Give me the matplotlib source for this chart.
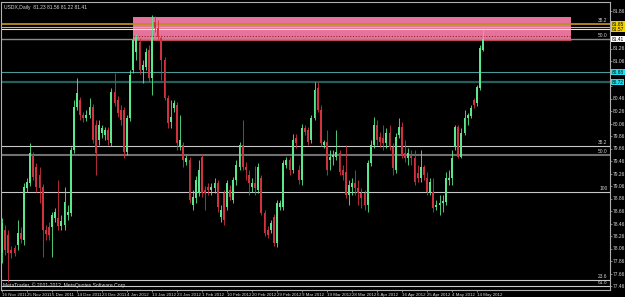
import numpy as np
import matplotlib.pyplot as plt
from matplotlib.patches import Rectangle

plt.rcParams['font.family'] = ['Liberation Sans Narrow', 'Liberation Sans', 'DejaVu Sans']

# ================== data: USDX Daily (O, H, L, C) ==================
# one list per 16 bars (broker feed has Sunday bars)
nov16 = [(77.99, 78.55, 77.83, 78.47), (78.36, 78.44, 77.96, 78.04), (78.28, 78.36, 77.52, 77.99),
         (78.04, 78.10, 77.91, 77.99), (78.06, 78.12, 77.94, 77.99), (78.12, 78.52, 78.04, 78.31),
         (78.31, 78.40, 78.15, 78.22), (78.20, 79.11, 78.12, 79.04), (79.03, 79.19, 78.96, 79.12),
         (79.11, 79.75, 79.06, 79.59), (79.56, 79.60, 79.16, 79.20), (79.36, 79.43, 78.96, 79.04),
         (79.24, 79.36, 78.79, 79.03), (79.04, 79.09, 77.92, 78.36), (78.36, 78.44, 78.20, 78.30),
         (78.40, 78.48, 78.20, 78.28)]
dec05 = [(78.40, 78.64, 77.92, 78.60), (78.55, 78.71, 78.48, 78.64), (78.55, 79.16, 78.36, 78.42),
         (78.42, 78.60, 78.36, 78.50), (78.44, 79.04, 78.36, 78.80), (78.60, 78.76, 78.52, 78.64),
         (78.63, 79.68, 78.58, 79.64), (79.64, 80.44, 79.59, 80.32), (80.32, 80.79, 80.28, 80.55),
         (80.44, 80.48, 80.12, 80.20), (80.20, 80.24, 80.08, 80.15), (80.15, 80.28, 80.10, 80.20),
         (80.20, 80.47, 80.15, 80.32), (80.32, 80.37, 79.75, 79.80), (80.04, 80.12, 79.24, 79.59),
         (79.80, 80.12, 79.72, 80.04)]
dec23 = [(79.91, 80.04, 79.83, 79.99), (79.88, 80.00, 79.80, 79.96), (79.96, 80.00, 79.72, 79.80),
         (79.75, 80.63, 79.70, 80.56), (80.56, 80.87, 80.34, 80.39), (80.44, 80.50, 80.16, 80.23),
         (80.28, 80.36, 80.04, 80.12), (80.28, 80.32, 79.51, 79.60), (79.60, 80.20, 79.55, 80.15),
         (80.15, 80.92, 80.10, 80.84), (80.92, 81.46, 80.87, 81.40), (81.20, 81.49, 81.08, 81.43),
         (81.36, 81.43, 80.85, 80.92), (80.92, 81.08, 80.71, 81.00), (80.96, 81.27, 80.92, 81.20),
         (81.24, 81.32, 80.72, 80.79)]
jan13 = [(80.79, 81.80, 80.52, 81.44), (81.68, 81.78, 81.52, 81.59), (81.59, 81.72, 81.40, 81.44),
         (81.43, 81.48, 80.76, 81.08), (81.08, 81.12, 80.44, 80.47), (80.47, 80.52, 79.99, 80.07),
         (80.08, 80.44, 79.99, 80.16), (80.31, 80.44, 80.24, 80.39), (80.36, 80.40, 79.64, 79.75),
         (79.68, 80.20, 79.64, 79.80), (79.72, 79.76, 79.36, 79.48), (79.44, 79.56, 79.40, 79.51),
         (79.48, 79.52, 78.79, 78.84), (78.76, 79.00, 78.68, 78.88), (78.87, 79.22, 78.79, 79.16),
         (78.95, 79.48, 78.90, 79.32)]
feb01 = [(79.52, 79.57, 78.88, 78.95), (78.99, 79.06, 78.68, 78.95), (79.04, 79.11, 78.92, 78.99),
         (78.99, 79.11, 78.92, 79.04), (79.03, 79.19, 78.95, 79.11), (79.11, 79.16, 78.64, 78.72),
         (78.56, 78.76, 78.48, 78.68), (78.95, 79.00, 78.44, 78.52), (78.72, 79.16, 78.68, 79.11),
         (78.99, 79.08, 78.84, 78.88), (78.84, 79.20, 78.79, 79.16), (79.16, 79.48, 79.08, 79.40),
         (79.36, 79.76, 79.32, 79.72), (79.72, 80.12, 79.32, 79.36), (79.36, 79.44, 79.16, 79.32),
         (79.24, 79.32, 78.92, 79.11)]
feb20 = [(79.04, 79.19, 78.96, 79.11), (79.11, 79.38, 78.92, 79.03), (78.99, 79.43, 78.95, 79.36),
         (79.19, 79.24, 78.60, 78.63), (78.63, 78.68, 78.26, 78.31), (78.36, 78.42, 78.23, 78.28),
         (78.36, 78.52, 78.31, 78.47), (78.56, 78.61, 78.10, 78.15), (78.15, 78.84, 78.08, 78.79),
         (78.72, 78.84, 78.68, 78.79), (78.72, 79.48, 78.68, 79.43), (79.40, 79.52, 79.35, 79.48),
         (79.48, 79.52, 79.24, 79.32), (79.32, 79.89, 79.27, 79.80), (79.83, 79.89, 79.67, 79.75),
         (79.32, 79.40, 79.10, 79.16)]
mar09 = [(79.16, 80.05, 79.08, 79.99), (79.99, 80.04, 79.88, 79.92), (79.96, 80.00, 79.72, 79.76),
         (79.80, 80.20, 79.75, 80.15), (80.15, 80.72, 80.12, 80.60), (80.63, 80.72, 80.24, 80.28),
         (80.28, 80.36, 79.70, 79.75), (79.72, 79.80, 79.67, 79.76), (79.76, 79.96, 79.24, 79.32),
         (79.48, 79.64, 79.32, 79.52), (79.52, 79.64, 79.40, 79.56), (79.52, 79.96, 79.48, 79.60),
         (79.59, 79.64, 79.24, 79.28), (79.32, 79.40, 79.16, 79.24), (79.28, 79.72, 78.87, 78.92),
         (78.92, 79.16, 78.76, 79.08)]
mar28 = [(79.04, 79.19, 78.92, 79.11), (79.11, 79.32, 78.92, 79.03), (79.03, 79.16, 78.76, 78.95),
         (78.95, 79.03, 78.71, 78.87), (78.95, 79.00, 78.68, 78.76), (78.76, 79.48, 78.64, 79.43),
         (79.43, 79.80, 79.38, 79.72), (79.72, 80.16, 79.67, 80.04), (80.04, 80.12, 79.72, 79.80),
         (79.84, 79.92, 79.68, 79.76), (79.83, 80.04, 79.64, 79.75), (79.75, 79.99, 79.67, 79.91),
         (79.91, 80.04, 79.64, 79.68), (79.68, 79.75, 79.24, 79.35), (79.32, 79.91, 79.27, 79.84),
         (79.88, 80.15, 79.83, 80.00)]
apr16 = [(80.00, 80.08, 79.51, 79.56), (79.59, 79.80, 79.44, 79.51), (79.51, 79.67, 79.40, 79.59),
         (79.56, 79.64, 79.40, 79.51), (79.51, 79.64, 79.08, 79.12), (79.27, 79.40, 79.12, 79.19),
         (79.19, 79.64, 79.12, 79.36), (79.36, 79.40, 79.16, 79.24), (79.19, 79.28, 78.92, 78.96),
         (78.96, 79.19, 78.92, 79.12), (78.96, 79.19, 78.64, 78.71), (78.72, 78.84, 78.68, 78.76),
         (78.76, 78.92, 78.60, 78.79), (78.79, 78.92, 78.64, 78.82), (78.80, 79.28, 78.76, 79.19),
         (79.16, 79.32, 79.08, 79.19)]
may04 = [(79.19, 79.64, 79.08, 79.51), (79.68, 80.04, 79.64, 80.00), (80.00, 80.04, 79.51, 79.52),
         (79.52, 79.99, 79.51, 79.91), (79.91, 80.28, 79.88, 80.15), (80.15, 80.23, 80.04, 80.20),
         (80.18, 80.36, 80.15, 80.31), (80.44, 80.47, 80.31, 80.36), (80.39, 80.68, 80.34, 80.64),
         (80.63, 81.32, 80.60, 81.27), (81.23, 81.56, 81.22, 81.41)]

date_labels = ['16 Nov 2011', '25 Nov 2011', '5 Dec 2011', '14 Dec 2011', '23 Dec 2011',
               '4 Jan 2012', '13 Jan 2012', '23 Jan 2012', '1 Feb 2012', '10 Feb 2012',
               '20 Feb 2012', '29 Feb 2012', '9 Mar 2012', '19 Mar 2012', '28 Mar 2012',
               '6 Apr 2012', '16 Apr 2012', '25 Apr 2012', '4 May 2012', '14 May 2012']
price_ticks = [77.46, 77.66, 77.86, 78.06, 78.26, 78.46, 78.66, 78.86, 79.06, 79.26, 79.46, 79.66,
               79.86, 80.06, 80.26, 80.46, 80.66, 80.86, 81.06, 81.26, 81.46, 81.66, 81.86]
hidden_ticks = [80.66, 80.86, 81.46, 81.66]   # covered by the price boxes

# horizontal lines: price, colour, width, label
hlines = [(81.65, '#b8901c', 1.3, '38.2'), (81.60, '#e0b070', 0.8, ''), (81.57, '#ffe6a8', 0.8, ''),
          (81.42, '#8a8a8a', 1.0, '50.0'), (80.88, '#4a9a9a', 0.8, ''), (80.72, '#235f5f', 1.6, ''),
          (79.70, '#c8c8c8', 0.8, '38.2'), (79.56, '#707070', 1.5, '50.0'), (78.96, '#c8c8c8', 0.8, '100'),
          (77.56, '#c8c8c8', 0.8, '23.6'), (77.46, '#c8c8c8', 0.8, '61.8')]
zone_bars = (41.9, 182.1)      # pink resistance zone, bar index
zone_prices = (81.38, 81.76)

ohlc = np.array(nov16 + dec05 + dec23 + jan13 + feb01 + feb20 + mar09 + mar28 + apr16 + may04)
o, h, l, c = ohlc.T
idx = np.arange(len(ohlc))

# ================== figure ==================
fig = plt.figure(figsize=(6.25, 2.97), dpi=100, facecolor='black')
ax = fig.add_axes([1 / 625, 7 / 297, 609 / 625, 288 / 297])
ax.set_facecolor('black')
ax.set_xlim(-0.32, 194.56)
ax.set_ylim(77.396, 82.004)

for s in ax.spines.values():
    s.set_color('#b0b0b0')
    s.set_linewidth(0.8)

# zone
ax.add_patch(Rectangle((zone_bars[0], zone_prices[0]), zone_bars[1] - zone_bars[0],
                       zone_prices[1] - zone_prices[0], facecolor='#e5739c', edgecolor='none', zorder=1))
ax.hlines(81.46, zone_bars[0], zone_bars[1], colors='#a02030', lw=0.8, linestyles=(0, (1, 1.5)), zorder=2)
ax.hlines(81.39, zone_bars[0], zone_bars[1], colors='#c83848', lw=0.8, zorder=2)

# horizontal lines + their labels
for price, col, lw, lab in hlines:
    ax.axhline(price, color=col, lw=lw, zorder=2)
    if lab:
        ax.text(193.8, price + 0.012, lab, color='#d0d0d0', fontsize=3.5, ha='right', va='bottom', zorder=5)

# candles
bull = c >= o
col = np.where(bull, '#5ae88c', '#d0323f')
ax.vlines(idx, l, h, colors=col, lw=0.6, zorder=3)
body = np.maximum(np.abs(c - o), 0.02)
ax.bar(idx, body, bottom=np.minimum(o, c), width=0.62, color=col, linewidth=0, zorder=4)

# axes ticks
ax.yaxis.tick_right()
ax.set_yticks(price_ticks)
ax.set_yticklabels(['' if p in hidden_ticks else f'{p:.2f}' for p in price_ticks])
ax.set_xticks(np.arange(0, 8 * len(date_labels), 8))
ax.set_xticklabels(date_labels, ha='left')
ax.tick_params(axis='both', colors='#b0b0b0', labelcolor='#d8d8d8',
               length=1.5, width=0.5, pad=0.8)
ax.tick_params(axis='y', labelsize=3.5)
ax.tick_params(axis='x', labelsize=3.15)

# price label boxes on the right scale
boxes = [(81.61, '81.65\n81.57', '#f0d000'), (81.41, '81.41', '#ffffff'),
         (80.88, '80.88', '#20e0f0'), (80.72, '80.72', '#20e0f0')]
for price, txt, fc in boxes:
    ax.text(1.003, price, txt, transform=ax.get_yaxis_transform(), fontsize=3.4, color='black',
            va='center', ha='left', zorder=6, clip_on=False, linespacing=1.0,
            bbox=dict(boxstyle='square,pad=0.15', fc=fc, ec='none'))

fig.text(4 / 625, 1 - 7 / 297, 'USDX,Daily  81.23 81.56 81.22 81.41', color='#d8d8d8',
         fontsize=3.6, va='center', ha='left')
fig.text(3 / 625, 1 - 285 / 297, 'MetaTrader, \u00a9 2001-2012, MetaQuotes Software Corp.',
         color='#d8d8d8', fontsize=3.6, va='center', ha='left')

fig.savefig('out.png', dpi=100, facecolor='black')
